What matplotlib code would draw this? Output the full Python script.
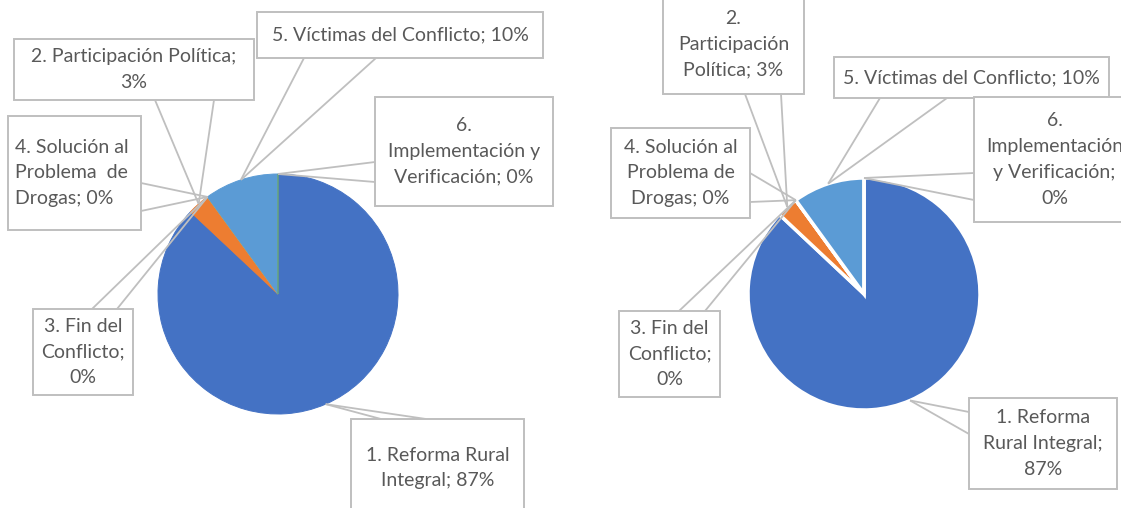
import math
import matplotlib
matplotlib.use('Agg')
import matplotlib.pyplot as plt
from matplotlib.patches import Rectangle

# ---------------- data ----------------
categories = ["1. Reforma Rural Integral", "2. Participación Política",
              "3. Fin del Conflicto", "4. Solución al Problema  de Drogas",
              "5. Víctimas del Conflicto", "6. Implementación y Verificación"]
values_left = [87, 3, 0, 0, 10, 0]
values_right = [87, 3, 0, 0, 10, 0]
colors = ['#4472C4', '#ED7D31', '#A5A5A5', '#FFC000', '#5B9BD5', '#70AD47']

# label text with the line breaks used in each chart ({p} = percentage)
labels_left = ["1. Reforma Rural\nIntegral; {p}",
               "2. Participación Política;\n{p}",
               "3. Fin del\nConflicto;\n{p}",
               "4. Solución al\nProblema  de\nDrogas; {p}",
               "5. Víctimas del Conflicto; {p}",
               "6.\nImplementación y\nVerificación; {p}"]
labels_right = ["1. Reforma\nRural Integral;\n{p}",
                "2.\nParticipación\nPolítica; {p}",
                "3. Fin del\nConflicto;\n{p}",
                "4. Solución al\nProblema de\nDrogas; {p}",
                "5. Víctimas del Conflicto; {p}",
                "6.\nImplementación\ny Verificación;\n{p}"]

# ---------------- layout (pixels, y down) ----------------
W, H = 1121, 508
TXT = '#595959'
LINE = '#BFBFBF'
FS = 14
LS = 1.63


def Y(y):
    return H - y


fig = plt.figure(figsize=(W / 100, H / 100), dpi=100)
ax = fig.add_axes([0, 0, 1, 1])

charts = [
    dict(values=values_left, labels=labels_left, center=(278, 294), r=120,
         wedge=dict(linewidth=0.7), white=False,
         boxes=[(351, 419, 524, 517), (14, 39, 254, 100), (33, 309, 133, 395),
                (8, 116, 141, 230), (257, 12, 543, 58), (375, 97, 553, 206)],
         attach=[((381, 419), (426, 419)), ((155, 100), (214, 100)),
                 ((92, 309), (117, 309)), ((141, 183), (141, 211)),
                 ((304, 58), (376, 58)), ((375, 162), (375, 182))],
         align=['center', 'center', 'center', 'left', 'center', 'center']),
    dict(values=values_right, labels=labels_right, center=(864, 294), r=116,
         wedge=dict(linewidth=2.5, edgecolor='white'), white=True,
         boxes=[(969, 398, 1117, 489), (663, -5, 804, 94), (619, 311, 720, 397),
                (611, 128, 750, 218), (834, 57, 1109, 98), (974, 97, 1135, 222)],
         attach=[((969, 412), (969, 434)), ((745, 94), (781, 94)),
                 ((679, 311), (705, 311)), ((750, 173), (750, 202)),
                 ((880, 98), (947, 98)), ((974, 173), (974, 200))],
         align=['center'] * 6),
]

for ch in charts:
    cx, cy = ch['center']
    r = ch['r']
    wedges, _ = ax.pie(ch['values'], colors=colors, startangle=90,
                       counterclock=False, center=(cx, Y(cy)), radius=r,
                       wedgeprops=ch['wedge'], frame=True)
    if not ch['white']:
        for w, c in zip(wedges, colors):
            w.set_edgecolor(c)
    for i, w in enumerate(wedges):
        mid = math.radians((w.theta1 + w.theta2) / 2)
        px = cx + r * math.cos(mid)
        py = Y(cy) + r * math.sin(mid)
        for (qx, qy) in ch['attach'][i]:
            ax.plot([qx, px], [Y(qy), py], color=LINE, lw=1.3,
                    solid_capstyle='butt', zorder=3)
        x0, y0, x1, y1 = ch['boxes'][i]
        ax.add_patch(Rectangle((x0, Y(y1)), x1 - x0, y1 - y0,
                               facecolor='white', edgecolor=LINE, lw=1.4,
                               zorder=4))
        txt = ch['labels'][i].format(p=f"{ch['values'][i]:.0f}%")
        if ch['align'][i] == 'left':
            ax.text(x0 + 7, Y((y0 + y1) / 2), txt, ha='left', va='center',
                    multialignment='left', fontsize=FS, color=TXT,
                    family='Lato', linespacing=LS, zorder=5)
        else:
            ax.text((x0 + x1) / 2, Y((y0 + y1) / 2), txt, ha='center',
                    va='center', multialignment='center', fontsize=FS,
                    color=TXT, family='Lato', linespacing=LS, zorder=5)

ax.set_xlim(0, W)
ax.set_ylim(0, H)
ax.set_aspect('equal')
ax.axis('off')
fig.savefig('out.png', dpi=100, facecolor='white')
